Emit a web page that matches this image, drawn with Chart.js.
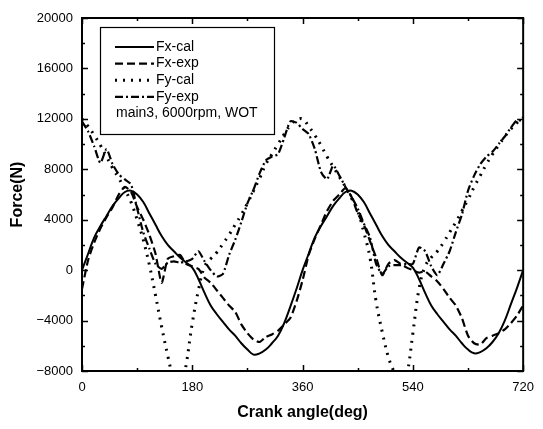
<!DOCTYPE html>
<html>
<head>
<meta charset="utf-8">
<script src="https://cdn.jsdelivr.net/npm/chart.js@4.4.0/dist/chart.umd.min.js"></script>
<style>
  html, body { margin: 0; padding: 0; background: #fff; }
</style>
</head>
<body>
<canvas id="forceChart" width="543" height="429"></canvas>
<script>
// crank angle, deg (every 10 deg)
const angles = [
  0, 10, 20, 30, 40, 50, 60, 70, 80, 90, 100, 110, 120, 130, 140, 150, 160, 170, 180,
  190, 200, 210, 220, 230, 240, 250, 260, 270, 280, 290, 300, 310, 320, 330, 340, 350, 360,
  370, 380, 390, 400, 410, 420, 430, 440, 450, 460, 470, 480, 490, 500, 510, 520, 530, 540,
  550, 560, 570, 580, 590, 600, 610, 620, 630, 640, 650, 660, 670, 680, 690, 700, 710, 720
];

const fxCal = [
  0, 1300, 2600, 3500, 4300, 5100, 5700, 6200, 6300, 6000, 5400, 4500, 3600, 2700, 2000, 1500, 1000, 600, 200,
  -700, -1800, -2800, -3500, -4100, -4700, -5200, -5800, -6300, -6700, -6600, -6300, -5800, -5200, -4200, -2900, -1500, 0,
  1300, 2600, 3500, 4300, 5100, 5700, 6200, 6300, 6000, 5400, 4500, 3600, 2700, 2000, 1500, 1000, 600, 200,
  -700, -1800, -2800, -3500, -4100, -4700, -5200, -5800, -6300, -6600, -6500, -6200, -5700, -5000, -4000, -2700, -1400, 0
];

const fxExp = [
  -1500, 800, 2200, 3300, 4200, 5000, 6000, 6600, 6200, 5000, 4000, 2800, 1300, -1000, 900, 1100, 1200, 500, 300,
  100, -600, -1000, -1600, -2200, -2800, -3300, -4300, -5000, -5500, -5700, -5300, -5100, -4800, -4300, -3800, -2500, -800,
  1200, 2500, 3600, 4700, 5500, 6000, 6500, 5800, 4500, 3600, 2300, 1000, -400, 500, 800, 500, 200, 0,
  -200, -100, -500, -900, -1500, -2200, -2800, -3800, -5200, -5800, -5900, -5400, -5200, -5000, -4700, -4200, -3600, -2800
];

const fyCal = [
  12000, 11400, 10700, 9900, 9000, 8100, 7300, 6400, 5400, 4000, 2400, 400, -2000, -4500, -6800, -8800, -10000, -7500, -4200,
  -1600, 300, 900, 1400, 2100, 2800, 3600, 4400, 5300, 6300, 7300, 8400, 9200, 10000, 10800, 11500, 11900, 12000,
  11400, 10700, 9900, 9000, 8200, 7400, 6600, 5700, 4700, 3000, 1000, -2500, -4900, -6900, -8200, -9800, -8400, -5000,
  -1500, 300, 1000, 1500, 2200, 3000, 3800, 4700, 5600, 6600, 7500, 8400, 9200, 9900, 10600, 11200, 11700, 12100
];

const fyExp = [
  11800, 11000, 9800, 8500, 9600, 8400, 7600, 7200, 6800, 4900, 3000, 1700, 500, 100, 600, 700, 600, 700, 900,
  1500, 700, 0, -500, -300, 1200, 2400, 3800, 5300, 6400, 7700, 8700, 9000, 9200, 10500, 11800, 11700, 11200,
  10800, 9600, 7800, 7200, 8300, 7500, 6600, 5800, 4900, 3700, 2600, 500, -300, 300, 400, 400, 500, 500,
  1800, 1500, 300, -400, 500, 1500, 3000, 4400, 6300, 7500, 8400, 9000, 9400, 10000, 10600, 11300, 11900, 11800
];

const seriesNames = ["Fx-cal", "Fx-exp", "Fy-cal", "Fy-exp"];
const noteText = "main3, 6000rpm, WOT";
const xTicks = [0, 180, 360, 540, 720];
const yTicks = [-8000, -4000, 0, 4000, 8000, 12000, 16000, 20000];

function pts(vals) {
  return angles.map((a, i) => ({ x: a, y: vals[i] }));
}

const fontName = "'Liberation Sans', Arial, sans-serif";

// frame + inward ticks on all four sides
const frameBox = {
  id: "frameBox",
  afterDatasetsDraw(chart) {
    const { ctx, chartArea: a, scales } = chart;
    const xs = scales.x, ys = scales.y;
    ctx.save();
    ctx.strokeStyle = "#000";
    ctx.lineWidth = 1.5;
    for (let v = 0; v <= 720; v += 90) {
      const px = Math.round(xs.getPixelForValue(v)) + 0.5;
      const len = v % 180 === 0 ? 6 : 3;
      ctx.beginPath();
      ctx.moveTo(px, a.bottom); ctx.lineTo(px, a.bottom - len);
      ctx.moveTo(px, a.top); ctx.lineTo(px, a.top + len);
      ctx.stroke();
    }
    for (let v = -8000; v <= 20000; v += 2000) {
      const py = Math.round(ys.getPixelForValue(v)) + 0.5;
      const len = v % 4000 === 0 ? 6 : 3;
      ctx.beginPath();
      ctx.moveTo(a.left, py); ctx.lineTo(a.left + len, py);
      ctx.moveTo(a.right, py); ctx.lineTo(a.right - len, py);
      ctx.stroke();
    }
    ctx.lineWidth = 2;
    ctx.strokeRect(a.left, a.top, a.right - a.left, a.bottom - a.top);

    // legend box
    const bx = a.left + 18, by = a.top + 9, bw = 174, bh = 107;
    ctx.fillStyle = "#fff";
    ctx.fillRect(bx, by, bw, bh);
    ctx.lineWidth = 1.2;
    ctx.strokeRect(bx + 0.5, by + 0.5, bw, bh);
    ctx.font = "14px " + fontName;
    ctx.fillStyle = "#000";
    ctx.textBaseline = "middle";
    chart.data.datasets.forEach((ds, i) => {
      const ry = by + 20 + i * 16.6;
      ctx.save();
      ctx.lineWidth = ds.borderWidth;
      ctx.setLineDash(ds.borderDash || []);
      ctx.beginPath();
      ctx.moveTo(bx + 15, ry); ctx.lineTo(bx + 54, ry);
      ctx.stroke();
      ctx.restore();
      ctx.fillText(ds.label, bx + 56, ry);
    });
    ctx.fillText(noteText, bx + 16, by + 20 + 4 * 16.6);
    ctx.restore();
  }
};

const ctx = document.getElementById("forceChart");

new Chart(ctx, {
  type: "line",
  data: {
    datasets: [
      { label: seriesNames[0], data: pts(fxCal), borderColor: "#000", borderWidth: 2, tension: 0.4 },
      { label: seriesNames[1], data: pts(fxExp), borderColor: "#000", borderWidth: 2.2, borderDash: [8, 4], tension: 0.2 },
      { label: seriesNames[2], data: pts(fyCal), borderColor: "#000", borderWidth: 3, borderDash: [2, 6], tension: 0.4 },
      { label: seriesNames[3], data: pts(fyExp), borderColor: "#000", borderWidth: 2.2, borderDash: [8, 3, 2, 3], tension: 0.2 }
    ]
  },
  options: {
    responsive: false,
    animation: false,
    devicePixelRatio: 1,
    layout: { padding: { top: 18, right: 16, left: 0, bottom: 0 } },
    elements: { point: { radius: 0 } },
    plugins: { legend: { display: false }, tooltip: { enabled: false } },
    scales: {
      x: {
        type: "linear", min: 0, max: 720,
        afterBuildTicks: s => { s.ticks = xTicks.map(v => ({ value: v })); },
        ticks: { padding: 9, color: "#000", font: { family: fontName, size: 13 }, maxRotation: 0, callback: v => String(v) },
        grid: { display: false, drawTicks: false },
        border: { display: false },
        title: { display: true, text: "Crank angle(deg)", color: "#000", font: { family: fontName, size: 16, weight: "bold" }, padding: { top: 0, bottom: 7 } },
        afterFit: s => { s.height = 58; }
      },
      y: {
        min: -8000, max: 20000,
        afterBuildTicks: s => { s.ticks = yTicks.map(v => ({ value: v })); },
        ticks: { padding: 9, color: "#000", font: { family: fontName, size: 13 }, callback: v => String(v).replace("-", "\u2212") },
        grid: { display: false, drawTicks: false },
        border: { display: false },
        title: { display: true, text: "Force(N)", color: "#000", font: { family: fontName, size: 16, weight: "bold" }, padding: { top: 8, bottom: 0 } },
        afterFit: s => { s.width = 82; }
      }
    }
  },
  plugins: [frameBox]
});
</script>
</body>
</html>
